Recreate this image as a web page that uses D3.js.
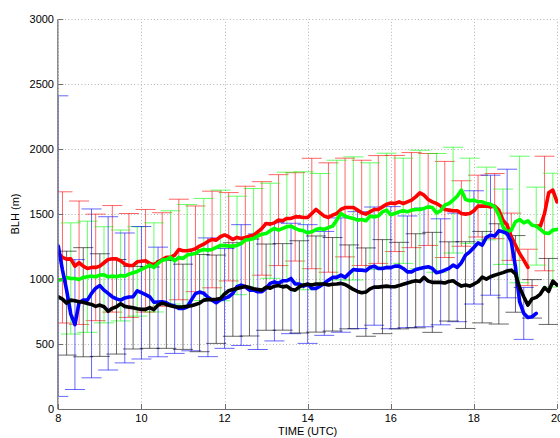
<!DOCTYPE html>
<html>
<head>
<meta charset="utf-8">
<script src="https://cdn.jsdelivr.net/npm/d3@7"></script>
<style>
  html, body { margin: 0; padding: 0; background: #fff; }
  svg { display: block; }
  text { font-family: "Liberation Sans", Arial, Helvetica, sans-serif; fill: #000; }
</style>
</head>
<body>
<svg id="chart" width="560" height="438"></svg>
<script>
// Boundary-layer height, 0.1 h sampling from 08:00 to 20:00 UTC (null = no data)
const redBLH = [
  1197,1167,1154,1156,1100,1126,1100,1082,1090,1090,
  1100,1126,1151,1156,1156,1141,1115,1105,1105,1133,
  1138,1141,1121,1110,1131,1151,1167,1167,1185,1228,
  1218,1218,1223,1233,1254,1269,1290,1305,1300,1326,
  1340,1326,1305,1321,1313,1321,1331,1338,1364,1390,
  1428,1423,1433,1454,1449,1467,1467,1479,1479,1474,
  1474,1505,1536,1510,1485,1474,1492,1505,1536,1551,
  1551,1551,1531,1510,1500,1518,1536,1536,1556,1577,
  1585,1582,1595,1582,1595,1608,1633,1664,1646,1613,
  1595,1582,1562,1536,1531,1526,1526,1505,1500,1505,
  1526,1562,1562,1562,1556,1562,1531,1454,1415,1326,
  1262,1197,1146,1090,null,1408,1408,1505,1664,1685,
  1595
];
const greenBLH = [
  992,997,1013,1005,1005,997,1013,1018,1023,1018,
  1031,1033,1018,1023,1018,1028,1023,1038,1049,1059,
  1074,1090,1108,1090,1121,1146,1151,1167,1141,1167,
  1159,1185,1192,1197,1218,1228,1223,1228,1244,1259,
  1258,1254,1254,1259,1274,1300,1305,1313,1331,1346,
  1351,1372,1390,1377,1390,1403,1408,1390,1377,1372,
  1356,1364,1382,1390,1382,1397,1408,1454,1505,1485,
  1474,1467,1454,1459,1449,1485,1479,1485,1518,1531,
  1496,1505,1518,1526,1518,1531,1536,1536,1544,1556,
  1551,1510,1526,1569,1582,1608,1638,1685,1613,1603,
  1608,1595,1595,1582,1577,1556,1492,1403,1364,1377,
  1441,1459,1433,1449,1415,1408,1382,1356,1351,1377,
  1382
];
const blueBLH = [
  1254,1070,915,730,650,820,838,838,890,930,
  950,915,890,864,848,838,855,862,864,910,
  895,880,864,822,824,826,818,800,792,775,
  774,785,838,888,900,890,860,838,818,840,
  851,864,890,941,954,941,915,915,903,903,
  928,967,979,967,987,987,1005,962,962,946,
  962,928,928,946,967,992,1013,1013,1031,1013,
  1044,1074,1069,1069,1064,1090,1100,1082,1082,1090,
  1088,1100,1100,1082,1056,1056,1074,1082,1090,1095,
  1082,1049,1056,1069,1082,1108,1090,1126,1185,1210,
  1244,1279,1262,1321,1338,1331,1372,1364,1351,1287,
  1095,826,736,705,710,736,null,null,null,null,
  null
];
const blackBLH = [
  864,846,815,838,833,826,822,812,805,790,
  800,787,752,775,787,810,790,784,780,772,
  767,767,780,765,800,815,805,795,787,785,
  787,790,795,805,815,838,842,842,845,850,
  885,910,920,928,936,944,935,925,920,915,
  938,930,945,950,940,946,922,915,940,955,
  960,955,962,962,962,955,960,962,967,958,
  940,920,905,895,900,925,938,938,942,946,
  941,941,950,960,970,979,987,982,1013,985,
  975,975,975,970,982,987,965,946,954,946,
  962,980,1015,1000,1018,1030,1040,1050,1062,1069,
  1040,935,864,800,848,859,885,935,905,985,
  954
];

// Standard deviation shown as error bars, every 0.4 h (each series shifted by 0.1 h)
const blueErrStart = 8.0;
const blueStd = [1157,500,650,590,500,510,422,364,390,457,384,465,445,455,425,
  457,400,440,450,455,470,430,457,408,418,436,462,495,200];
const redErrStart = 8.1;
const redStd = [505,475,410,410,400,395,360,387,330,372,340,394,360,350,340,
  425,421,380,405,415,370,366,354,370,252,238,251,182,140,441];
const blackErrStart = 8.2;
const blackStd = [400,420,395,364,318,313,338,328,374,340,360,373,332,333,355,
  370,360,323,340,362,333,362,385,305,334,352,386,295,148,254];
const greenErrStart = 8.3;
const greenStd = [428,428,370,350,344,343,359,389,393,426,379,384,366,420,454,
  423,461,474,410,438,405,456,457,407,328,280,290,487,300,438];

const xTicks = [8, 10, 12, 14, 16, 18, 20];
const yTicks = [0, 500, 1000, 1500, 2000, 2500, 3000];

const seriesList = [
  { name: "red",   color: "#ff0000", values: redBLH,   errStart: redErrStart,   std: redStd },
  { name: "green", color: "#00ff00", values: greenBLH, errStart: greenErrStart, std: greenStd },
  { name: "blue",  color: "#0000ff", values: blueBLH,  errStart: blueErrStart,  std: blueStd },
  { name: "black", color: "#000000", values: blackBLH, errStart: blackErrStart, std: blackStd }
];

const plotLeft = 58.3, plotRight = 557, plotTop = 19.3, plotBottom = 409;
const xScale = d3.scaleLinear().domain([8, 20]).range([plotLeft, plotRight]);
const yScale = d3.scaleLinear().domain([0, 3000]).range([plotBottom, plotTop]);
const stepOf = i => 8 + i * 0.1;
const idxOf = t => Math.round((t - 8) * 10);

const svg = d3.select("#chart");
svg.append("rect").attr("width", 560).attr("height", 438).attr("fill", "#fff");

svg.append("defs").append("clipPath").attr("id", "plotClip")
  .append("rect").attr("x", plotLeft).attr("y", plotTop - 2)
  .attr("width", plotRight - plotLeft + 1).attr("height", plotBottom - plotTop + 2);

// dotted grid
const grid = svg.append("g").attr("stroke", "#b4b4b4").attr("stroke-width", 1)
  .attr("stroke-dasharray", "1,2.3");
grid.selectAll("line.gx").data(xTicks).join("line")
  .attr("x1", d => Math.round(xScale(d)) + 0.5).attr("x2", d => Math.round(xScale(d)) + 0.5)
  .attr("y1", plotBottom).attr("y2", plotTop);
grid.selectAll("line.gy").data(yTicks).join("line")
  .attr("y1", d => Math.round(yScale(d)) + 0.5).attr("y2", d => Math.round(yScale(d)) + 0.5)
  .attr("x1", plotLeft).attr("x2", plotRight);

const plot = svg.append("g").attr("clip-path", "url(#plotClip)");

// error bars (mean ± standard deviation)
seriesList.forEach(s => {
  const bars = s.std.map((sd, k) => {
    const t = +(s.errStart + 0.4 * k).toFixed(2);
    const v = s.values[idxOf(t)];
    return { t, v, sd };
  }).filter(b => b.v != null);
  const g = plot.append("g").attr("stroke", s.color).attr("stroke-width", 1)
    .attr("stroke-opacity", 0.6).attr("fill", "none");
  bars.forEach(b => {
    const cx = xScale(b.t), y1 = yScale(b.v + b.sd), y2 = yScale(b.v - b.sd);
    g.append("line").attr("x1", cx).attr("x2", cx).attr("y1", y1).attr("y2", y2);
    g.append("line").attr("x1", cx - 10).attr("x2", cx + 10).attr("y1", y1).attr("y2", y1);
    g.append("line").attr("x1", cx - 10).attr("x2", cx + 10).attr("y1", y2).attr("y2", y2);
  });
});

// mean lines
const lineGen = d3.line()
  .defined(d => d.v != null)
  .x(d => xScale(d.t)).y(d => yScale(d.v));
seriesList.forEach(s => {
  const pts = s.values.map((v, i) => ({ t: stepOf(i), v }));
  plot.append("path").datum(pts)
    .attr("d", lineGen)
    .attr("fill", "none")
    .attr("stroke", s.color)
    .attr("stroke-width", 3.6)
    .attr("stroke-linejoin", "round")
    .attr("stroke-linecap", "round");
});

// axes
const axisColor = "#6e6e6e";
svg.append("line").attr("x1", plotLeft - 0.5).attr("x2", plotLeft - 0.5)
  .attr("y1", plotTop).attr("y2", plotBottom)
  .attr("stroke", axisColor).attr("stroke-width", 1.2);
svg.append("line").attr("x1", plotLeft - 0.5).attr("x2", plotRight)
  .attr("y1", plotBottom + 0.5).attr("y2", plotBottom + 0.5)
  .attr("stroke", axisColor).attr("stroke-width", 1.2);

svg.append("g").selectAll("line").data(yTicks).join("line")
  .attr("x1", plotLeft).attr("x2", plotLeft + 5)
  .attr("y1", d => Math.round(yScale(d)) + 0.5).attr("y2", d => Math.round(yScale(d)) + 0.5)
  .attr("stroke", axisColor);
svg.append("g").selectAll("line").data(xTicks).join("line")
  .attr("x1", d => Math.round(xScale(d)) + 0.5).attr("x2", d => Math.round(xScale(d)) + 0.5)
  .attr("y1", plotBottom).attr("y2", plotBottom - 5)
  .attr("stroke", axisColor);

svg.append("g").selectAll("text").data(yTicks).join("text")
  .attr("x", 54).attr("y", d => yScale(d) + 4)
  .attr("text-anchor", "end").attr("font-size", 11)
  .text(d => d);
svg.append("g").selectAll("text").data(xTicks).join("text")
  .attr("x", d => xScale(d)).attr("y", 422)
  .attr("text-anchor", "middle").attr("font-size", 11)
  .text(d => d);

svg.append("text").attr("x", (plotLeft + plotRight) / 2).attr("y", 435)
  .attr("text-anchor", "middle").attr("font-size", 11).text("TIME (UTC)");
svg.append("text").attr("transform", "translate(19,214) rotate(-90)")
  .attr("text-anchor", "middle").attr("font-size", 11).text("BLH (m)");
</script>
</body>
</html>
